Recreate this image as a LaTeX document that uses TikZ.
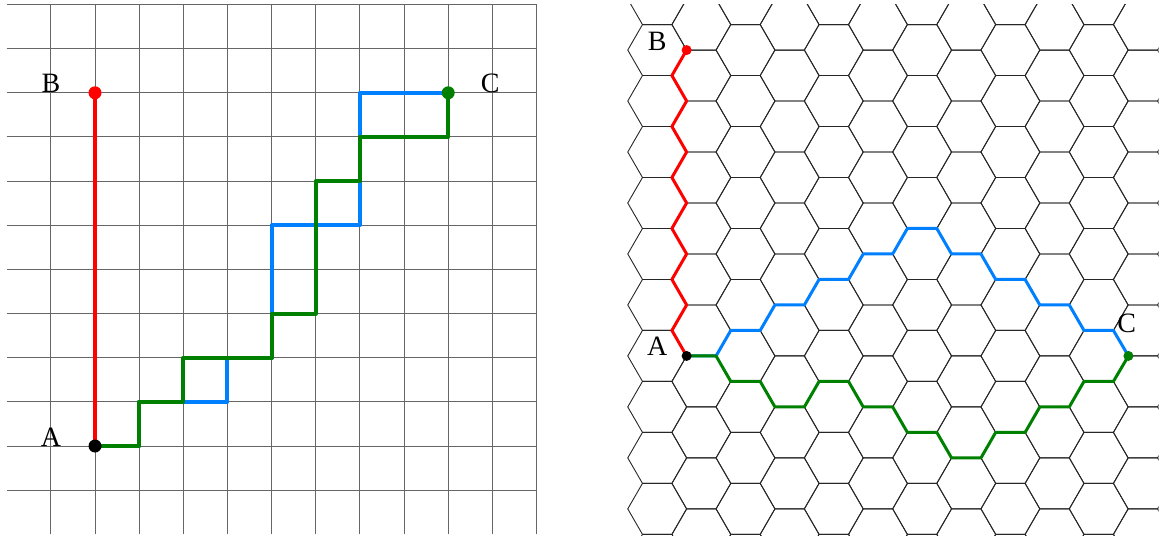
\documentclass[tikz,border=0pt]{standalone}
\usepackage{fontspec}
\setmainfont{Liberation Serif}
\definecolor{pblue}{RGB}{0,128,255}
\definecolor{pgreen}{RGB}{0,128,0}
\definecolor{pred}{RGB}{255,0,0}
\begin{document}
\begin{tikzpicture}[x=44.15pt,y=44.15pt,
  gridline/.style={black!60,line width=1pt},
  hexline/.style={black!85,line width=0.9pt},
  sqpath/.style={line width=4pt,line join=round},
  hxpath/.style={line width=3pt,line join=round},
  lbl/.style={font=\fontsize{28}{30}\selectfont,inner sep=0pt,anchor=base}]
\useasboundingbox (-2.152,-2.061) rectangle (24.19,10.102);

% ---------- left panel: square grid ----------
\foreach \y in {-1,...,10} \draw[gridline] (-2,\y) -- (10,\y);
\foreach \x in {-1,...,10} \draw[gridline] (\x,-2) -- (\x,10);

\coordinate (A) at (0,0);
\coordinate (B) at (0,8);
\coordinate (C) at (8,8);

\draw[sqpath,pblue] (A) -- (1,0) -- (1,1) -- (3,1) -- (3,2) -- (4,2) -- (4,5) -- (6,5) -- (6,8) -- (C);
\draw[sqpath,pgreen] (A) -- (1,0) -- (1,1) -- (2,1) -- (2,2) -- (4,2) -- (4,3) -- (5,3) -- (5,6) -- (6,6) -- (6,7) -- (8,7) -- (C);
\draw[sqpath,pred] (A) -- (B);

\fill[black] (A) circle[radius=6.5pt];
\fill[pred] (B) circle[radius=6.5pt];
\fill[pgreen] (C) circle[radius=6.5pt];

\node[lbl] (lA) at (-1,0) {A};
\node[lbl] (lB) at (-1,8) {B};
\node[lbl] (lC) at (8.95,8) {C};

% ---------- right panel: hexagonal grid ----------
\coordinate (Ah) at (13.40,2.04);
\coordinate (Bh) at (13.40,8.9682);
\coordinate (Ch) at (23.40667,2.04);

\begin{scope}
\clip (12.05,-2.03) rectangle (24.09,10.0);
\foreach \k in {0,...,11} {
  \foreach \r in {-4,...,8} {
    \pgfmathsetmacro\cx{12.73333+\k}
    \pgfmathsetmacro\cy{2.04+0.57735*(2*\r+mod(\k,2))}
    \draw[hexline,shift={(\cx,\cy)}] (0:0.66667) -- (60:0.66667) -- (120:0.66667) -- (180:0.66667) -- (240:0.66667) -- (300:0.66667) -- cycle;
  }
}
\end{scope}

% blue: E NE E NE E NE E NE E NE E SE E SE E SE E SE E SE
\draw[hxpath,pblue] (Ah)
  -- ++(0.66667,0) -- ++(0.33333,0.57735)
  -- ++(0.66667,0) -- ++(0.33333,0.57735)
  -- ++(0.66667,0) -- ++(0.33333,0.57735)
  -- ++(0.66667,0) -- ++(0.33333,0.57735)
  -- ++(0.66667,0) -- ++(0.33333,0.57735)
  -- ++(0.66667,0) -- ++(0.33333,-0.57735)
  -- ++(0.66667,0) -- ++(0.33333,-0.57735)
  -- ++(0.66667,0) -- ++(0.33333,-0.57735)
  -- ++(0.66667,0) -- ++(0.33333,-0.57735)
  -- ++(0.66667,0) -- (Ch);
% green: E SE E SE E NE E SE E SE E SE E NE E NE E NE E NE
\draw[hxpath,pgreen] (Ah)
  -- ++(0.66667,0) -- ++(0.33333,-0.57735)
  -- ++(0.66667,0) -- ++(0.33333,-0.57735)
  -- ++(0.66667,0) -- ++(0.33333,0.57735)
  -- ++(0.66667,0) -- ++(0.33333,-0.57735)
  -- ++(0.66667,0) -- ++(0.33333,-0.57735)
  -- ++(0.66667,0) -- ++(0.33333,-0.57735)
  -- ++(0.66667,0) -- ++(0.33333,0.57735)
  -- ++(0.66667,0) -- ++(0.33333,0.57735)
  -- ++(0.66667,0) -- ++(0.33333,0.57735)
  -- ++(0.66667,0) -- (Ch);
% red: (NW NE) x 6
\draw[hxpath,pred] (Ah)
  -- ++(-0.33333,0.57735) -- ++(0.33333,0.57735)
  -- ++(-0.33333,0.57735) -- ++(0.33333,0.57735)
  -- ++(-0.33333,0.57735) -- ++(0.33333,0.57735)
  -- ++(-0.33333,0.57735) -- ++(0.33333,0.57735)
  -- ++(-0.33333,0.57735) -- ++(0.33333,0.57735)
  -- ++(-0.33333,0.57735) -- (Bh);

\fill[black] (Ah) circle[radius=5pt];
\fill[pred] (Bh) circle[radius=5pt];
\fill[pgreen] (Ch) circle[radius=5pt];

\node[lbl] (hA) at (12.73333,2.04) {A};
\node[lbl] (hB) at (12.73333,8.9682) {B};
\node[lbl] (hC) at (23.37,2.57) {C};
\end{tikzpicture}
\end{document}
